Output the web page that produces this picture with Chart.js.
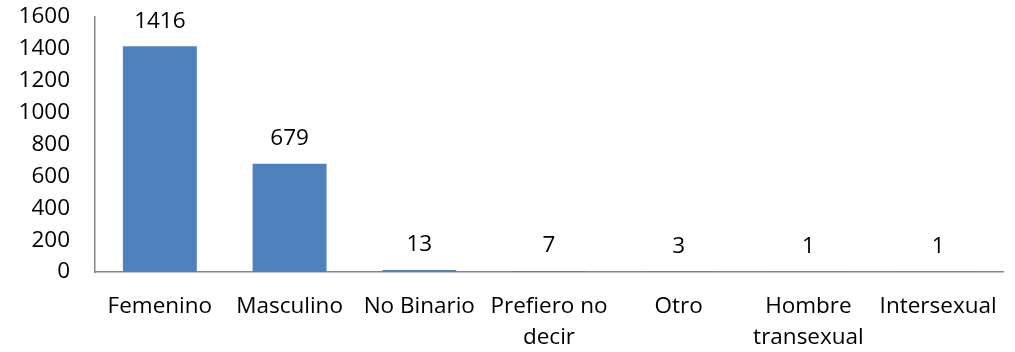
<!DOCTYPE html>
<html>
<head>
<meta charset="utf-8">
<script src="https://cdn.jsdelivr.net/npm/chart.js@4/dist/chart.umd.min.js"></script>
<style>
  html, body { margin: 0; padding: 0; background: #fff; }
  #wrap { width: 1015px; height: 352px; }
</style>
</head>
<body>
<div id="wrap"><canvas id="c" width="1015" height="352"></canvas></div>
<script>
// Respondents by gender identity
const categories = ['Femenino', 'Masculino', 'No Binario', ['Prefiero no', 'decir'], 'Otro', ['Hombre', 'transexual'], 'Intersexual'];
const counts = [1416, 679, 13, 7, 3, 1, 1];
const yTicks = { min: 0, max: 1600, step: 200 };

const FONT = { family: '"Open Sans", sans-serif', size: 22.5, lineHeight: 1.38 };

// Writes each bar's count just above its top
const valueLabels = {
  id: 'valueLabels',
  afterDatasetsDraw(chart) {
    const ctx = chart.ctx;
    const meta = chart.getDatasetMeta(0);
    ctx.save();
    ctx.font = `${FONT.size}px ${FONT.family}`;
    ctx.fillStyle = '#000';
    ctx.textAlign = 'center';
    ctx.textBaseline = 'middle';
    meta.data.forEach((bar, i) => {
      ctx.fillText(String(counts[i]), bar.x, bar.y - 25);
    });
    ctx.restore();
  }
};

new Chart(document.getElementById('c'), {
  type: 'bar',
  data: {
    labels: categories,
    datasets: [{
      data: counts,
      backgroundColor: '#4F81BD',
      borderWidth: 0,
      categoryPercentage: 1,
      barPercentage: 0.57
    }]
  },
  options: {
    responsive: false,
    animation: false,
    layout: { padding: { top: 17, right: 12, left: 0, bottom: 0 } },
    plugins: { legend: { display: false }, tooltip: { enabled: false } },
    scales: {
      x: {
        grid: { display: false, drawTicks: false },
        border: { display: true, color: '#868686', width: 1.5 },
        ticks: { color: '#000', font: FONT, padding: 19, autoSkip: false, maxRotation: 0 },
        afterFit(scale) { scale.height = 80; scale.paddingLeft = 0; scale.paddingRight = 0; }
      },
      y: {
        min: yTicks.min,
        max: yTicks.max,
        grid: { display: false, drawTicks: false },
        border: { display: true, color: '#868686', width: 1.5 },
        ticks: {
          stepSize: yTicks.step, color: '#000', font: FONT, padding: 25, autoSkip: false,
          callback: (v) => String(v)
        },
        afterFit(scale) { scale.width = 95; scale.paddingTop = 0; scale.paddingBottom = 0; }
      }
    }
  },
  plugins: [valueLabels]
});
</script>
</body>
</html>
